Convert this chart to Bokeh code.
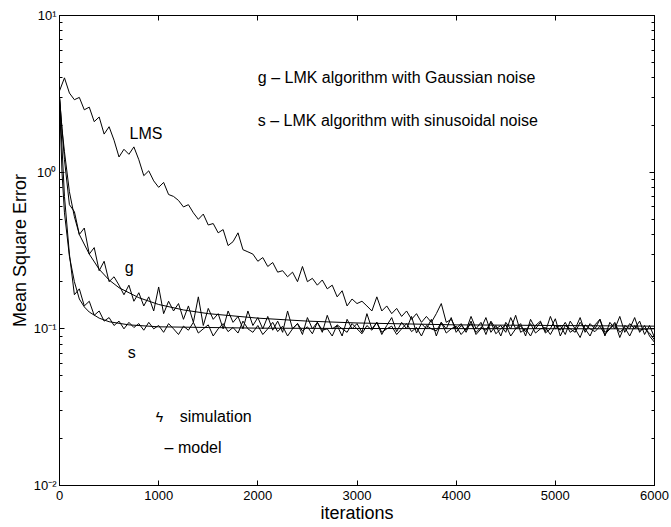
from bokeh.plotting import figure
from bokeh.models import (ColumnDataSource, LinearAxis, LogAxis, FixedTicker,
                          CustomJSTickFormatter, Label, Range1d, LogTicker)
from bokeh.embed import file_html
from bokeh.resources import INLINE

FONT = "Liberation Sans"

# ---------------- data ----------------
ITER_STEP = 50  # simulation curves are sampled every 50 iterations, from 0 to 6000

lms_sim = [3.3, 4.0, 3.2, 2.9, 3.0, 2.5, 2.6, 2.1, 2.25, 1.75,
           1.95, 1.6, 1.25, 1.4, 1.3, 1.45, 1.2, 0.95, 1.02, 0.88,
           0.8, 0.86, 0.72, 0.7, 0.66, 0.6, 0.62, 0.55, 0.5, 0.54,
           0.46, 0.47, 0.41, 0.43, 0.34, 0.36, 0.41, 0.32, 0.31, 0.3,
           0.27, 0.285, 0.25, 0.265, 0.23, 0.235, 0.215, 0.23, 0.2, 0.25,
           0.2, 0.21, 0.19, 0.205, 0.18, 0.19, 0.16, 0.175, 0.14, 0.155,
           0.145, 0.15, 0.14, 0.13, 0.16, 0.13, 0.14, 0.125, 0.135, 0.12,
           0.13, 0.115, 0.125, 0.11, 0.12, 0.11, 0.125, 0.145, 0.11, 0.115,
           0.1, 0.108, 0.095, 0.112, 0.092, 0.1, 0.118, 0.095, 0.105, 0.09,
           0.11, 0.1, 0.122, 0.095, 0.1, 0.09, 0.105, 0.112, 0.094, 0.1,
           0.116, 0.09, 0.105, 0.1, 0.095, 0.11, 0.1, 0.09, 0.106, 0.115,
           0.095, 0.1, 0.11, 0.088, 0.105, 0.1, 0.118, 0.095, 0.105, 0.09,
           0.082]

g_sim = [3.0, 1.2, 0.62, 0.56, 0.4, 0.44, 0.3, 0.33, 0.235, 0.27,
         0.2, 0.215, 0.19, 0.165, 0.19, 0.15, 0.17, 0.14, 0.16, 0.13,
         0.185, 0.125, 0.15, 0.13, 0.145, 0.115, 0.14, 0.11, 0.16, 0.105,
         0.135, 0.115, 0.125, 0.1, 0.13, 0.11, 0.12, 0.1, 0.13, 0.105,
         0.118, 0.1, 0.12, 0.098, 0.112, 0.095, 0.13, 0.1, 0.108, 0.092,
         0.118, 0.1, 0.11, 0.095, 0.122, 0.1, 0.105, 0.09, 0.115, 0.1,
         0.108, 0.095, 0.125, 0.1, 0.11, 0.092, 0.105, 0.118, 0.096, 0.11,
         0.1, 0.12, 0.094, 0.108, 0.1, 0.115, 0.09, 0.11, 0.1, 0.118,
         0.095, 0.105, 0.098, 0.12, 0.1, 0.11, 0.092, 0.112, 0.1, 0.105,
         0.095, 0.118, 0.1, 0.108, 0.09, 0.115, 0.1, 0.11, 0.096, 0.12,
         0.1, 0.105, 0.092, 0.112, 0.1, 0.118, 0.095, 0.108, 0.1, 0.115,
         0.09, 0.11, 0.1, 0.12, 0.095, 0.108, 0.1, 0.112, 0.092, 0.105,
         0.088]

s_sim = [3.0, 0.7, 0.3, 0.165, 0.18, 0.14, 0.15, 0.122, 0.13, 0.112,
         0.118, 0.105, 0.112, 0.1, 0.11, 0.102, 0.108, 0.098, 0.11, 0.1,
         0.105, 0.095, 0.108, 0.1, 0.092, 0.104, 0.098, 0.11, 0.094, 0.1,
         0.106, 0.09, 0.1, 0.108, 0.096, 0.102, 0.094, 0.112, 0.1, 0.095,
         0.105, 0.092, 0.1, 0.11, 0.096, 0.104, 0.09, 0.1, 0.108, 0.097,
         0.103, 0.093, 0.11, 0.098, 0.1, 0.09, 0.106, 0.1, 0.095, 0.108,
         0.1, 0.093, 0.105, 0.098, 0.11, 0.095, 0.1, 0.104, 0.092, 0.1,
         0.108, 0.096, 0.102, 0.09, 0.105, 0.1, 0.097, 0.11, 0.094, 0.1,
         0.104, 0.092, 0.1, 0.108, 0.095, 0.102, 0.098, 0.11, 0.093, 0.1,
         0.106, 0.09, 0.1, 0.104, 0.096, 0.108, 0.094, 0.1, 0.102, 0.092,
         0.105, 0.098, 0.11, 0.095, 0.1, 0.088, 0.106, 0.1, 0.096, 0.104,
         0.092, 0.1, 0.108, 0.095, 0.102, 0.09, 0.105, 0.098, 0.1, 0.094,
         0.085]

g_model_iter = [0, 25, 50, 100, 150, 200, 300, 400, 500, 600, 800, 1000,
                1250, 1500, 2000, 2500, 3000, 4000, 5000, 6000]
g_model_mse = [3.0, 1.9, 1.35, 0.75, 0.52, 0.40, 0.30, 0.24, 0.205, 0.183,
               0.158, 0.143, 0.132, 0.125, 0.117, 0.112, 0.109, 0.106, 0.105, 0.104]

s_model_iter = [0, 25, 50, 100, 150, 200, 250, 300, 400, 500, 700, 1000,
                1500, 2000, 3000, 4000, 6000]
s_model_mse = [3.0, 1.0, 0.55, 0.29, 0.2, 0.155, 0.138, 0.128, 0.117, 0.111,
               0.106, 0.103, 0.102, 0.101, 0.1005, 0.1003, 0.1]

x_ticks = [0, 1000, 2000, 3000, 4000, 5000, 6000]

# ---------------- figure ----------------
p = figure(width=671, height=527, x_range=Range1d(0, 6000), y_range=Range1d(0.01, 10),
           y_axis_type="log", output_backend="svg", toolbar_location=None,
           min_border_left=59, min_border_right=17, min_border_top=15, min_border_bottom=42,
           background_fill_color="white", border_fill_color="white")
p.grid.visible = False
p.outline_line_color = "black"
p.outline_line_width = 1


def iters(vals):
    return [i * ITER_STEP for i in range(len(vals))]


for vals in (lms_sim, g_sim, s_sim):
    src = ColumnDataSource(dict(x=iters(vals), y=vals))
    p.line("x", "y", source=src, line_color="black", line_width=1)

p.line(g_model_iter, g_model_mse, line_color="black", line_width=1)
p.line(s_model_iter, s_model_mse, line_color="black", line_width=1)

# ---------------- axes ----------------
ylab = CustomJSTickFormatter(code="""
const e = Math.round(Math.log10(tick));
const sup = {'-2': '\u207b\u00b2', '-1': '\u207b\u00b9', '0': '\u2070', '1': '\u00b9'};
return '10' + (sup[String(e)] ?? String(e));
""")
blank = CustomJSTickFormatter(code="return '';")

xa = p.xaxis[0]
xa.ticker = FixedTicker(ticks=x_ticks, minor_ticks=[])
ya = p.yaxis[0]
ya.ticker = LogTicker(num_minor_ticks=10)
ya.formatter = ylab

for ax in (xa, ya):
    ax.major_tick_in = 5
    ax.major_tick_out = 0
    ax.minor_tick_in = 3
    ax.minor_tick_out = 0
    ax.axis_line_color = "black"
    ax.major_tick_line_color = "black"
    ax.minor_tick_line_color = "black"
    ax.major_label_text_font = FONT
    ax.major_label_text_font_size = "13px"
    ax.major_label_text_color = "black"
    ax.axis_label_text_font = FONT
    ax.axis_label_text_font_size = "18px"
    ax.axis_label_text_font_style = "normal"
    ax.axis_label_text_color = "black"

xa.major_label_standoff = 5
xa.axis_label = "iterations"
xa.axis_label_standoff = 0
ya.major_label_standoff = 3
ya.axis_label = "Mean Square Error"
ya.axis_label_standoff = 1

top = LinearAxis(ticker=FixedTicker(ticks=x_ticks, minor_ticks=[]), formatter=blank,
                 major_tick_in=5, major_tick_out=0,
                 minor_tick_in=0, minor_tick_out=0, major_label_standoff=0)
right = LogAxis(ticker=LogTicker(num_minor_ticks=10), formatter=blank,
                major_tick_in=5, major_tick_out=0,
                minor_tick_in=3, minor_tick_out=0, major_label_standoff=0)
p.add_layout(top, "above")
p.add_layout(right, "right")

# ---------------- annotations ----------------
def note(x, y, text, size="16px"):
    p.add_layout(Label(x=x, y=y, text=text, text_font=FONT, text_font_size=size,
                       text_align="left", text_baseline="alphabetic", text_color="black"))


note(707, 1.77, "LMS")
note(657, 0.248, "g")
note(687, 0.0703, "s")
note(2000, 4.03, "g \u2013 LMK algorithm with Gaussian noise")
note(2000, 2.14, "s \u2013 LMK algorithm with sinusoidal noise")
note(970, 0.0275, "\u03df", size="14px")
note(1212, 0.0275, "simulation")
note(1060, 0.01746, "\u2013 model")

open("out.html", "w").write(file_html(p, INLINE))
